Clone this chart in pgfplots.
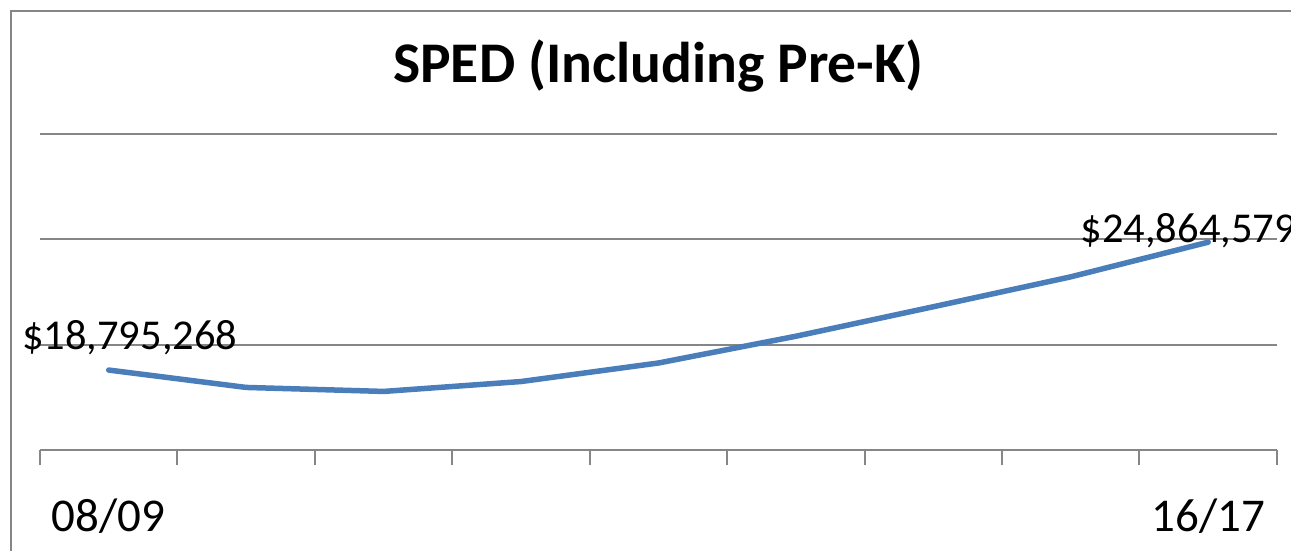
\documentclass[border=0pt]{standalone}
\usepackage{fontspec}
\setmainfont{Carlito}
\usepackage{pgfplots}
\pgfplotsset{compat=1.18}
\definecolor{lineblue}{RGB}{74,126,187}
\definecolor{gridgray}{RGB}{134,134,134}
\begin{document}
\begin{tikzpicture}[x=1pt,y=1pt]
\path[use as bounding box] (0,0) rectangle (1291,550);
\draw[gridgray, line width=2pt] (11,-5) -- (11,539) -- (1300,539);
\begin{axis}[
  at={(40pt,100pt)}, anchor=south west,
  scale only axis, width=1237pt, height=316pt,
  xmin=-0.5, xmax=8.5, ymin=15000000, ymax=30000000,
  axis x line*=bottom, axis y line*=left,
  y axis line style={draw=none},
  x axis line style={gridgray, line width=2pt},
  xtick={0,8}, xticklabels={08/09,16/17},
  major x tick style={draw=none},
  minor xtick={-0.5,0.5,...,8.5},
  minor x tick style={gridgray, line width=2pt},
  minor tick length=15pt,
  tick align=outside,
  xticklabel style={font=\fontsize{47}{50}\selectfont, anchor=base, yshift=-77pt},
  ytick={15000000,20000000,25000000,30000000},
  yticklabels={,,,},
  scaled y ticks=false,
  major y tick style={draw=none},
  ymajorgrids,
  grid style={gridgray, line width=2pt},
  title={\textbf{SPED (Including Pre-K)}},
  title style={font=\fontsize{57.5}{60}\selectfont, anchor=base, at={(0.5,1)}, yshift=46pt},
  clip=false,
]
\addplot[lineblue, line width=5.5pt, line join=round, line cap=round] coordinates {
 (0,18795268) (1,17970000) (2,17780000) (3,18250000) (4,19130000)
 (5,20400000) (6,21800000) (7,23220000) (8,24864579)};
\addplot[draw=none, nodes near coords={\$18,795,268},
  every node near coord/.append style={font=\fontsize{42.5}{44}\selectfont, anchor=base, xshift=21pt, yshift=21pt, inner sep=0pt}]
  coordinates {(0,18795268)};
\addplot[draw=none, nodes near coords={\$24,864,579},
  every node near coord/.append style={font=\fontsize{42.5}{44}\selectfont, anchor=base, xshift=-20pt, yshift=0pt, inner sep=0pt}]
  coordinates {(8,24864579)};
\end{axis}
\end{tikzpicture}
\end{document}
